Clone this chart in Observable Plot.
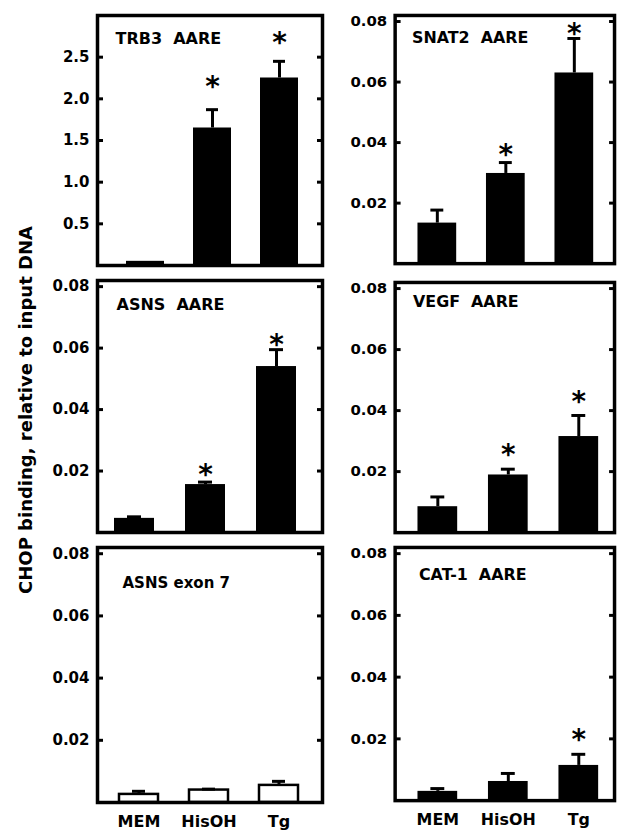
<!DOCTYPE html>
<html><head><meta charset="utf-8">
<script src="https://cdn.jsdelivr.net/npm/d3@7"></script>
<script src="https://cdn.jsdelivr.net/npm/@observablehq/plot@0.6"></script>
<style>
body{margin:0;background:#fff;}
#root{position:relative;width:620px;height:830px;background:#fff;overflow:hidden;}
.panel{position:absolute;}
#ytitle{position:absolute;left:25px;top:410px;transform:translate(-50%,-50%) rotate(-90deg);white-space:nowrap;font:bold 18px "DejaVu Sans";color:#000;}
</style></head>
<body>
<div id="root"><div id="ytitle">CHOP binding, relative to input DNA</div></div>
<script>
// ---- data ----
const categories = ["MEM", "HisOH", "Tg"];
const titles = ["TRB3\u00a0\u00a0AARE", "SNAT2\u00a0\u00a0AARE", "ASNS\u00a0\u00a0AARE", "VEGF\u00a0\u00a0AARE", "ASNS exon 7", "CAT-1\u00a0\u00a0AARE"];

const trb3Mean = [0.05, 1.65, 2.25];
const trb3Err  = [0.0, 0.22, 0.20];
const trb3Star = [null, 2.21, 2.74];

const snat2Mean = [0.0134, 0.0298, 0.063];
const snat2Err  = [0.0043, 0.0036, 0.0114];
const snat2Star = [null, 0.0377, 0.0777];

const asnsMean = [0.0046, 0.0156, 0.054];
const asnsErr  = [0.0005, 0.0008, 0.0055];
const asnsStar = [null, 0.0205, 0.063];

const vegfMean = [0.0085, 0.0189, 0.0315];
const vegfErr  = [0.0032, 0.0019, 0.0069];
const vegfStar = [null, 0.0273, 0.0449];

const exon7Mean = [0.0026, 0.0040, 0.0055];
const exon7Err  = [0.0010, 0.0003, 0.0013];
const exon7Star = [null, null, null];

const cat1Mean = [0.0030, 0.0062, 0.0114];
const cat1Err  = [0.0009, 0.0026, 0.0036];
const cat1Star = [null, null, 0.0215];

const ticksTRB3 = [0.5, 1.0, 1.5, 2.0, 2.5];
const ticksSmall = [0.02, 0.04, 0.06, 0.08];

// ---- layout ----
const panels = [
  {title: titles[0], mean: trb3Mean, err: trb3Err, star: trb3Star, ticks: ticksTRB3, fmt: ".1f", max: 3.0, left: 97, top: 15, w: 225, h: 250, po: 0.39, align: 0.54, open: false, xl: false, tdx: 18, tdy: 23, tfs: 16},
  {title: titles[1], mean: snat2Mean, err: snat2Err, star: snat2Star, ticks: ticksSmall, fmt: ".2f", max: 0.082, left: 395, top: 15, w: 221, h: 250, po: 0.32, align: 0.52, open: false, xl: false, tdx: 17, tdy: 23, tfs: 16},
  {title: titles[2], mean: asnsMean, err: asnsErr, star: asnsStar, ticks: ticksSmall, fmt: ".2f", max: 0.082, left: 97, top: 280, w: 225, h: 252, po: 0.29, align: 0.4, open: false, xl: false, tdx: 19, tdy: 24, tfs: 16},
  {title: titles[3], mean: vegfMean, err: vegfErr, star: vegfStar, ticks: ticksSmall, fmt: ".2f", max: 0.082, left: 395, top: 282, w: 221, h: 252, po: 0.27, align: 0.58, open: false, xl: false, tdx: 18, tdy: 20, tfs: 16},
  {title: titles[4], mean: exon7Mean, err: exon7Err, star: exon7Star, ticks: ticksSmall, fmt: ".2f", max: 0.082, left: 97, top: 547, w: 225, h: 255, po: 0.31, align: 0.47, open: true, xl: true, tdx: 25, tdy: 36, tfs: 15},
  {title: titles[5], mean: cat1Mean, err: cat1Err, star: cat1Star, ticks: ticksSmall, fmt: ".2f", max: 0.082, left: 395, top: 547, w: 221, h: 255, po: 0.27, align: 0.58, open: false, xl: true, tdx: 24, tdy: 28, tfs: 16}
];

const root = document.getElementById("root");
const ml = 50, mr = 6, mt = 4;

for (const p of panels) {
  const data = categories.map((c, i) => ({cat: c, mean: p.mean[i], hi: p.mean[i] + p.err[i], star: p.star[i]}));
  const withErr = data.filter(d => d.hi > d.mean);
  const mb = p.xl ? 34 : 4;
  const chart = Plot.plot({
    width: p.w + ml + mr,
    height: p.h + mt + mb,
    marginLeft: ml, marginRight: mr, marginTop: mt, marginBottom: mb,
    x: {domain: categories, paddingInner: 0.44, paddingOuter: p.po, align: p.align, axis: p.xl ? undefined : null, label: null},
    y: {domain: [0, p.max], label: null},
    style: {fontFamily: "DejaVu Sans", fontWeight: "bold", background: "transparent", overflow: "visible", color: "black"},
    marks: [
      Plot.barY(data, {x: "cat", y: "mean", fill: p.open ? "white" : "black", stroke: "black", strokeWidth: p.open ? 2.5 : 0}),
      Plot.ruleX(withErr, {x: "cat", y1: "mean", y2: "hi", stroke: "black", strokeWidth: 3}),
      Plot.tickY(withErr, {x: "cat", y: "hi", stroke: "black", strokeWidth: 3, insetLeft: 13, insetRight: 13}),
      Plot.text(data.filter(d => d.star != null), {x: "cat", y: "star", text: () => "*", fontSize: 28, fontWeight: "bold", dy: 6, fill: "black"}),
      Plot.text([p.title], {frameAnchor: "top-left", textAnchor: "start", lineAnchor: "middle", dx: p.tdx, dy: p.tdy, fontSize: p.tfs, fontWeight: "bold", fill: "black", text: d => d}),
      Plot.axisY({anchor: "left", ticks: p.ticks, tickSize: 0, tickPadding: 8, tickFormat: d3.format(p.fmt), fontSize: 15, fontWeight: "bold", fill: "black", label: null}),
      Plot.axisY({anchor: "left", ticks: p.ticks, tickSize: -6, strokeWidth: 3, stroke: "black", tickFormat: () => "", label: null}),
      Plot.axisY({anchor: "right", ticks: p.ticks, tickSize: -6, strokeWidth: 3, stroke: "black", tickFormat: () => "", label: null}),
      p.xl ? Plot.axisX({anchor: "bottom", tickSize: 0, tickPadding: 13, fontSize: 16, fontWeight: "bold", fill: "black", label: null}) : null,
      Plot.frame({stroke: "black", strokeWidth: 3.5})
    ]
  });
  const div = document.createElement("div");
  div.className = "panel";
  div.style.left = (p.left - ml) + "px";
  div.style.top = (p.top - mt) + "px";
  div.appendChild(chart);
  root.appendChild(div);
}
</script>
</body></html>
